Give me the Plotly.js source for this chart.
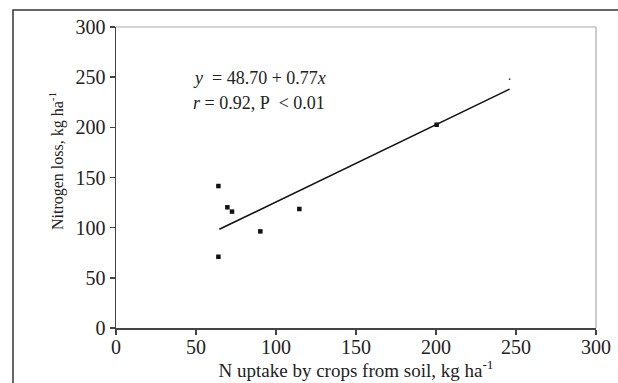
<!DOCTYPE html>
<html>
<head>
<meta charset="utf-8">
<script src="https://cdn.plot.ly/plotly-3.0.1.min.js"></script>
<style>html,body{margin:0;padding:0;background:#fff;}#chart{width:618px;height:383px;}</style>
</head>
<body>
<div id="chart"></div>
<script>
var uptakeX = [64, 64, 69.6, 72.5, 90.2, 114.6, 200.4];
var lossY = [141.5, 71, 120.3, 116, 96.3, 118.6, 202.6];
var strayX = [246];
var strayY = [248];
var fitX = [64.6, 246];
var fitY = [98.4, 238.1];
var tickVals = [0, 50, 100, 150, 200, 250, 300];
var xTitle = "N uptake by crops from soil, kg ha<sup>-1</sup>";
var yTitle = "Nitrogen loss, kg ha<sup>-1</sup>";
var eqLine1 = "<i>y</i>\u00a0\u00a0= 48.70 + 0.77<i>x</i>";
var eqLine2 = "<i>r</i> = 0.92, P\u00a0\u00a0&lt; 0.01";

var F = "Times New Roman, Liberation Serif, serif";
var traces = [
  {x: fitX, y: fitY, mode: "lines", line: {color: "#111", width: 1.6}, hoverinfo: "skip"},
  {x: uptakeX, y: lossY, mode: "markers", marker: {symbol: "square", size: 4.5, color: "#111"}},
  {x: strayX, y: strayY, mode: "markers", marker: {symbol: "square", size: 1.5, color: "#333"}}
];
function axis() {
  return {
    range: [0, 300], tickmode: "array", tickvals: tickVals, ticks: "outside", ticklen: 5, tickwidth: 1.5,
    tickcolor: "#444", showline: true, linecolor: "#444", linewidth: 1.5,
    showgrid: false, zeroline: false,
    tickfont: {family: F, size: 20, color: "#222"}
  };
}
var xa = axis();
xa.ticklabelstandoff = -5;
xa.title = {text: xTitle, font: {family: F, size: 19, color: "#222"}, standoff: 6};
var ya = axis();
var layout = {
  width: 618, height: 383,
  margin: {l: 116, r: 22, t: 27, b: 55},
  paper_bgcolor: "#fff", plot_bgcolor: "#fff",
  showlegend: false,
  font: {family: F, size: 17, color: "#222"},
  xaxis: xa,
  yaxis: ya,
  shapes: [
    {type: "line", xref: "paper", yref: "paper", x0: 0, x1: 1, y0: 1, y1: 1, line: {color: "#aaa", width: 1.2}},
    {type: "line", xref: "paper", yref: "paper", x0: 1, x1: 1, y0: 0, y1: 1, line: {color: "#aaa", width: 1.2}},
    {type: "rect", xref: "paper", yref: "paper", x0: -0.2146, x1: 1.1, y0: -0.3, y1: 1.0565, line: {color: "#333", width: 1.5}, fillcolor: "rgba(0,0,0,0)", layer: "below"}
  ],
  annotations: [
    {text: yTitle, textangle: -90, xref: "paper", yref: "paper", x: (56 - 116) / 480, y: (328 - 161) / 301, xanchor: "center", yanchor: "middle", showarrow: false, font: {family: F, size: 16, color: "#222"}},
    {text: eqLine1, xref: "paper", yref: "paper", x: (191 - 116) / 480, y: (328 - 78) / 301, xanchor: "left", yanchor: "middle", showarrow: false, font: {family: F, size: 18, color: "#222"}},
    {text: eqLine2, xref: "paper", yref: "paper", x: (191 - 116) / 480, y: (328 - 103) / 301, xanchor: "left", yanchor: "middle", showarrow: false, font: {family: F, size: 18, color: "#222"}}
  ]
};
Plotly.newPlot("chart", traces, layout, {displayModeBar: false, staticPlot: true});
</script>
</body>
</html>
